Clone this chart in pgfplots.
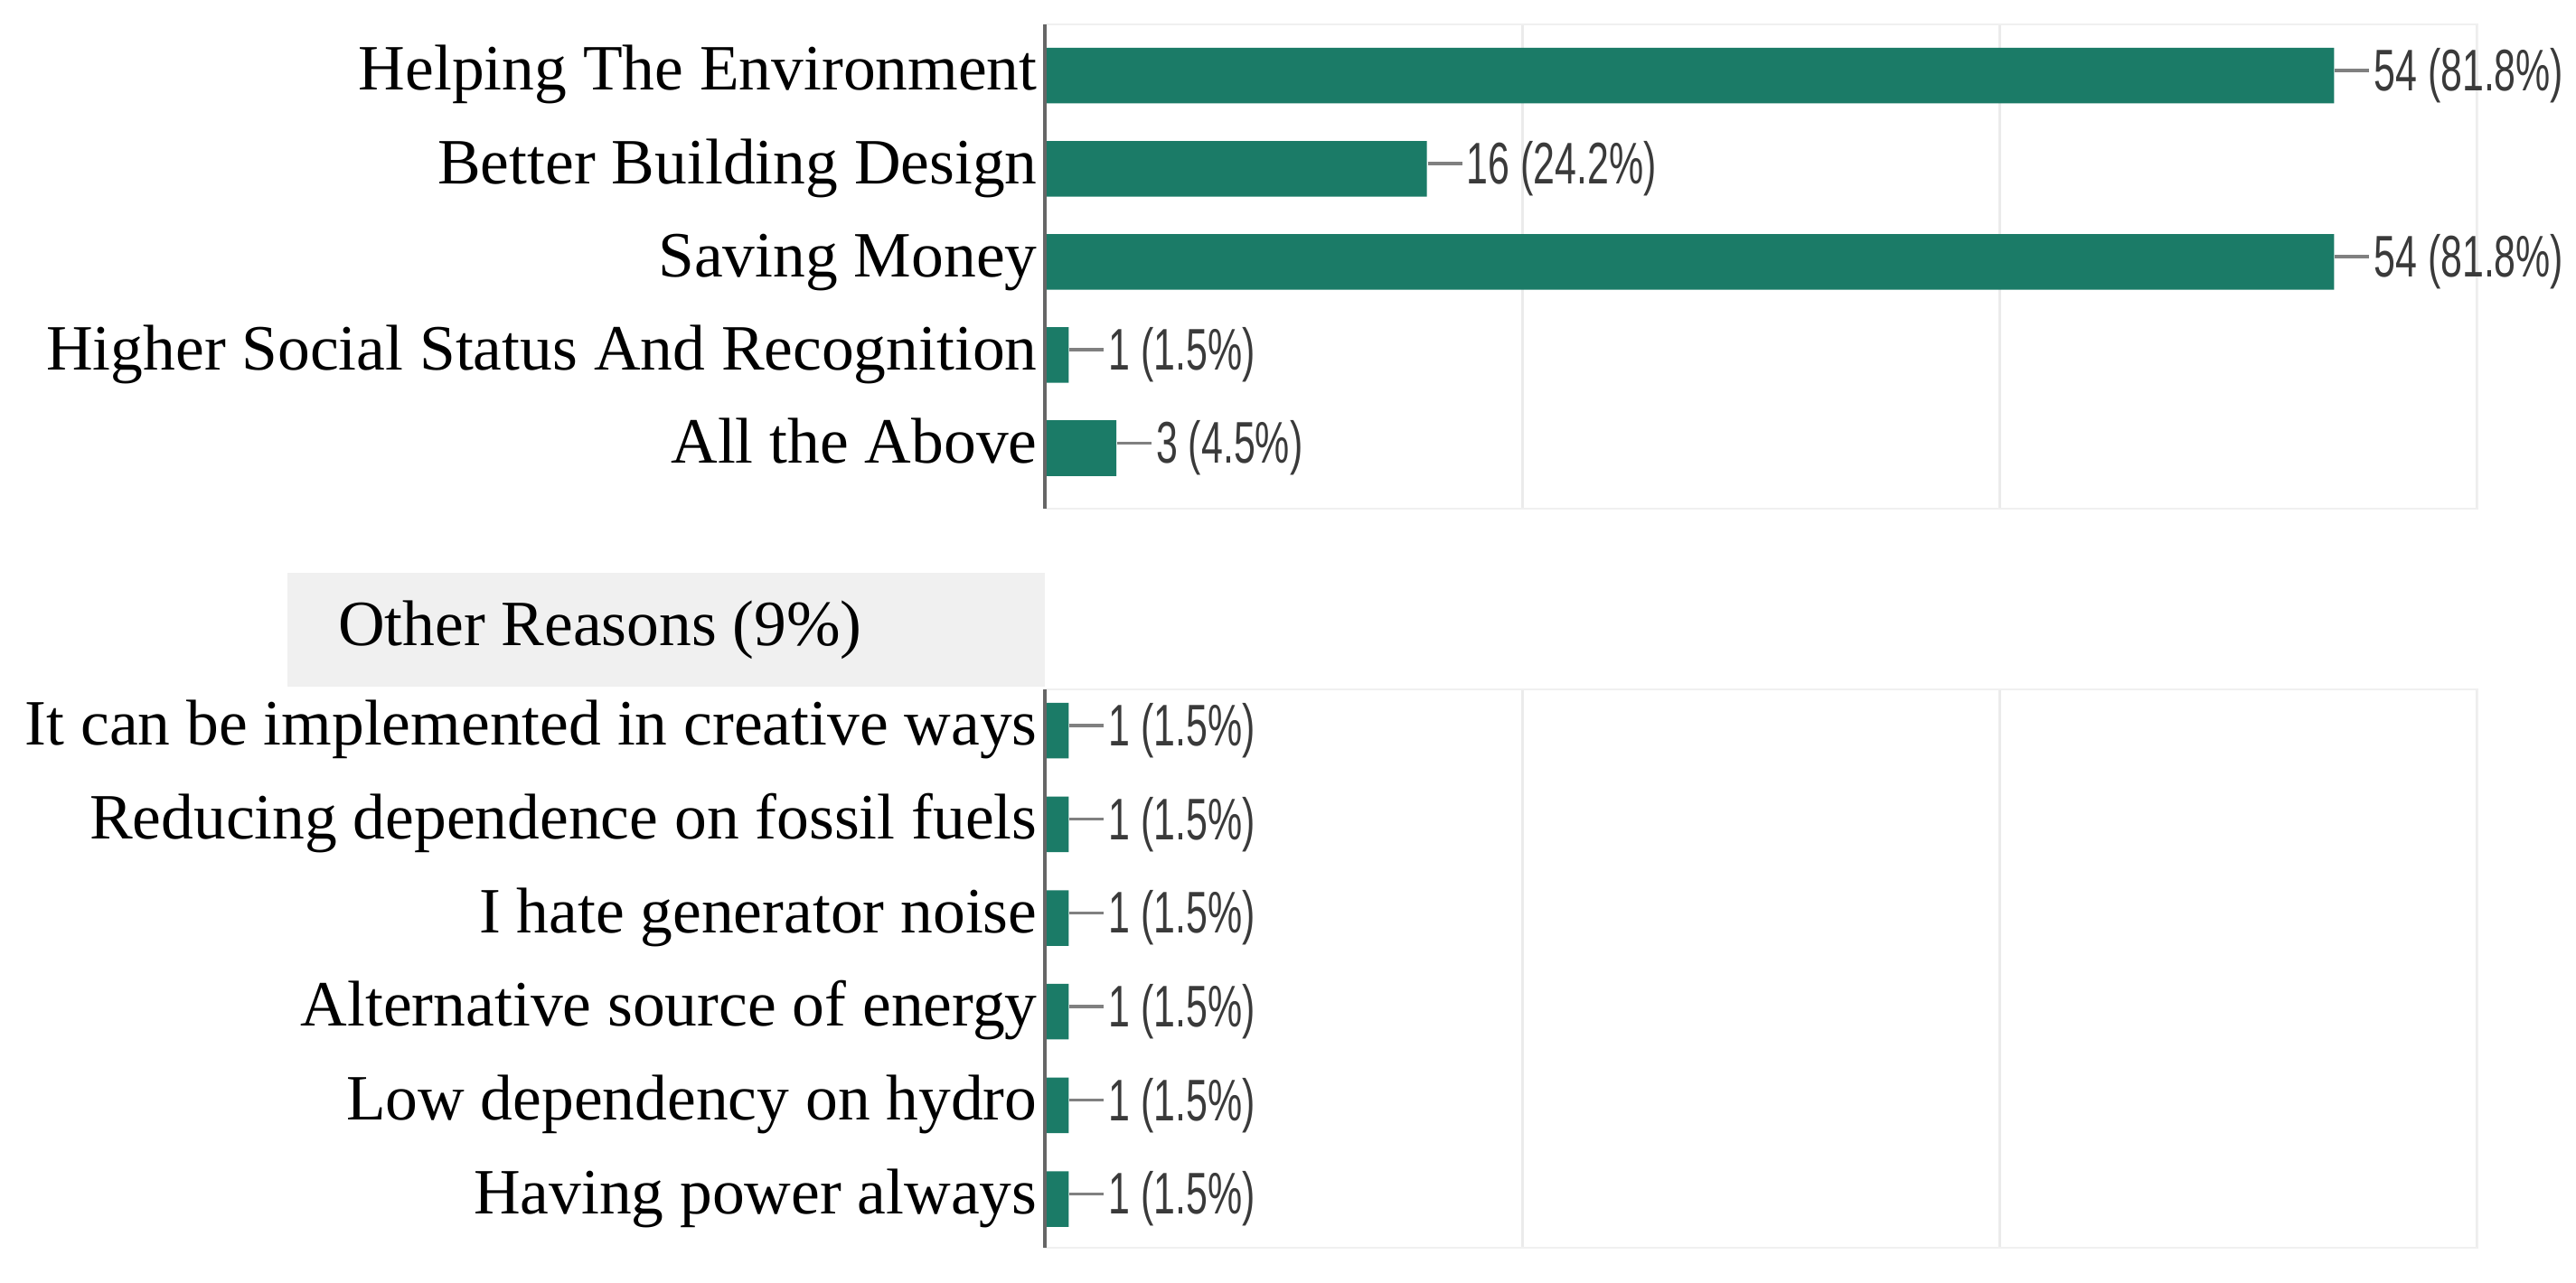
\documentclass[border=0pt]{standalone}
\usepackage{fontspec}
\setmainfont{Liberation Serif}
\newfontfamily\valfont{Liberation Sans}[FakeStretch=0.66]
\usepackage{pgfplots}
\pgfplotsset{compat=1.18}

\definecolor{barteal}{HTML}{1B7B67}
\definecolor{gridgray}{HTML}{EBEBEB}
\definecolor{axisgray}{HTML}{666666}
\definecolor{valgray}{HTML}{3A3A3A}
\definecolor{dashgray}{HTML}{808080}
\definecolor{boxgray}{HTML}{F0F0F0}

\newcommand{\lblfont}{\fontsize{14.3}{17}\selectfont}
\newcommand{\valdash}{\textcolor{dashgray}{\rule[0.32em]{7.6pt}{0.7pt}}\hspace{1pt}}

\pgfplotsset{
  reasons/.style={
    scale only axis, width=317pt,
    xbar, xmin=0, xmax=60,
    y dir=reverse,
    xtick={20,40,60}, xticklabels={}, xmajorgrids,
    grid style={gridgray, line width=0.6pt},
    major tick length=0pt,
    axis line style={black!6},
    ytick=data,
    yticklabel style={font=\lblfont, text=black, inner xsep=1.5pt,
      text height=0.9em, text depth=0.25em},
    bar width=12.3pt,
    point meta=explicit symbolic,
    nodes near coords={\valdash\pgfplotspointmeta},
    nodes near coords style={anchor=west, inner xsep=0pt,
      font=\valfont\fontsize{13}{15}\selectfont, text=valgray},
    clip=false,
  }
}

\begin{document}
\begin{tikzpicture}
\useasboundingbox (0,0) rectangle (570pt,283.8pt);

% main reasons
\begin{axis}[reasons,
    at={(231.2pt,171.2pt)}, anchor=south west,
    height=107.2pt,
    ymin=-0.55, ymax=4.65,
    yticklabels={Helping The Environment, Better Building Design, Saving Money,
      Higher Social Status And Recognition, All the Above},
]
\addplot[fill=barteal, draw=none] coordinates {
    (54,0) [54 (81.8\%)]
    (16,1) [16 (24.2\%)]
    (54,2) [54 (81.8\%)]
    (1,3)  [1 (1.5\%)]
    (3,4)  [3 (4.5\%)]
};
\draw[axisgray, line width=0.8pt] (rel axis cs:0,0) -- (rel axis cs:0,1);
\end{axis}

% header of the second panel
\fill[boxgray] (63.6pt,131.8pt) rectangle (231.2pt,157pt);
\node[anchor=west, font=\lblfont, inner sep=0pt] at (74.6pt,144.4pt) {Other Reasons (9\%)};

% other reasons
\begin{axis}[reasons,
    at={(231.2pt,7.6pt)}, anchor=south west,
    height=123.6pt,
    ymin=-0.44, ymax=5.52,
    yticklabels={It can be implemented in creative ways,
      Reducing dependence on fossil fuels, I hate generator noise,
      Alternative source of energy, Low dependency on hydro, Having power always},
]
\addplot[fill=barteal, draw=none] coordinates {
    (1,0) [1 (1.5\%)]
    (1,1) [1 (1.5\%)]
    (1,2) [1 (1.5\%)]
    (1,3) [1 (1.5\%)]
    (1,4) [1 (1.5\%)]
    (1,5) [1 (1.5\%)]
};
\draw[axisgray, line width=0.8pt] (rel axis cs:0,0) -- (rel axis cs:0,1);
\end{axis}
\end{tikzpicture}
\end{document}
